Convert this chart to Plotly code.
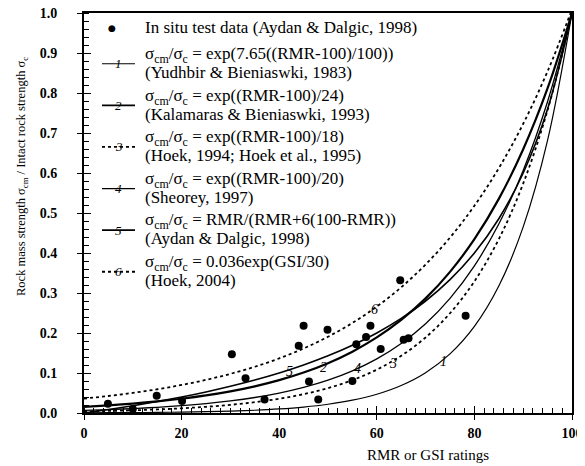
import plotly.graph_objects as go

# ---------------- data ----------------
rating = [0, 5, 10, 15, 20, 25, 30, 35, 40, 45, 50, 55, 60, 65, 70, 75, 80, 85, 90, 95, 100]

curve1 = [0.000476, 0.000698, 0.001023, 0.001500, 0.002198, 0.003222, 0.004724, 0.006925,
          0.010153, 0.014884, 0.021816, 0.031983, 0.046888, 0.068738, 0.100773, 0.147723,
          0.216536, 0.317408, 0.465334, 0.682138, 1.0]
curve2 = [0.015504, 0.019095, 0.023518, 0.028965, 0.035674, 0.043937, 0.054114, 0.066648,
          0.082085, 0.101097, 0.124514, 0.153355, 0.188876, 0.232625, 0.286505, 0.352866,
          0.434598, 0.535261, 0.659241, 0.811936, 1.0]
curve3 = [0.003866, 0.005105, 0.006738, 0.008893, 0.011744, 0.015504, 0.020468, 0.027024,
          0.035674, 0.047098, 0.062177, 0.082085, 0.108368, 0.143070, 0.188876, 0.249352,
          0.329193, 0.434598, 0.573753, 0.757465, 1.0]
curve4 = [0.006738, 0.008652, 0.011109, 0.014264, 0.018316, 0.023518, 0.030197, 0.038774,
          0.049787, 0.063928, 0.082085, 0.105399, 0.135335, 0.173774, 0.223130, 0.286505,
          0.367879, 0.472367, 0.606531, 0.778801, 1.0]
curve5 = [0.0, 0.008696, 0.018182, 0.028571, 0.04, 0.052632, 0.066667, 0.082353,
          0.1, 0.12, 0.142857, 0.169231, 0.2, 0.236364, 0.28, 0.333333,
          0.4, 0.485714, 0.6, 0.76, 1.0]
curve6 = [0.036, 0.042529, 0.050242, 0.059354, 0.070118, 0.082835, 0.097858, 0.115606,
          0.136572, 0.161341, 0.190602, 0.225169, 0.266006, 0.314249, 0.371241, 0.438570,
          0.518109, 0.612037, 0.723079, 0.854211, 1.009138]

test_x = [4.9, 10.0, 14.9, 20.1, 30.3, 33.1, 37.0, 44.0, 45.0, 46.1, 48.0, 49.9, 55.0,
          55.8, 57.8, 58.7, 60.8, 64.8, 65.5, 66.5, 78.2]
test_y = [0.023, 0.010, 0.043, 0.030, 0.147, 0.087, 0.034, 0.168, 0.218, 0.079, 0.034,
          0.208, 0.080, 0.172, 0.190, 0.218, 0.160, 0.332, 0.183, 0.187, 0.243]

# curve number labels placed on the curves
label_text = ["1", "2", "3", "4", "5", "6"]
label_x = [73.7, 49.1, 63.3, 56.1, 42.1, 59.5]
label_y = [0.128, 0.114, 0.125, 0.112, 0.104, 0.258]

legend_main = [
    "σ<sub>cm</sub>/σ<sub>c</sub> = exp(7.65((RMR-100)/100))",
    "σ<sub>cm</sub>/σ<sub>c</sub> = exp((RMR-100)/24)",
    "σ<sub>cm</sub>/σ<sub>c</sub> = exp((RMR-100)/18)",
    "σ<sub>cm</sub>/σ<sub>c</sub> = exp((RMR-100)/20)",
    "σ<sub>cm</sub>/σ<sub>c</sub> = RMR/(RMR+6(100-RMR))",
    "σ<sub>cm</sub>/σ<sub>c</sub> = 0.036exp(GSI/30)",
]
legend_ref = [
    "(Yudhbir &amp; Bieniaswki, 1983)",
    "(Kalamaras &amp; Bieniaswki, 1993)",
    "(Hoek, 1994; Hoek et al., 1995)",
    "(Sheorey, 1997)",
    "(Aydan &amp; Dalgic, 1998)",
    "(Hoek, 2004)",
]
dots_label = "In situ test data (Aydan &amp; Dalgic, 1998)"
x_ticks = [0, 20, 40, 60, 80, 100]
y_ticks = [0.0, 0.1, 0.2, 0.3, 0.4, 0.5, 0.6, 0.7, 0.8, 0.9, 1.0]

# ---------------- styles ----------------
FONT = "Liberation Serif, Times New Roman, serif"
curve_ys = [curve1, curve2, curve3, curve4, curve5, curve6]
curve_w = [1.2, 2.2, 1.8, 1.3, 1.6, 1.8]
curve_dash = ["solid", "solid", "3px,3px", "solid", "solid", "3px,3px"]
legend_dash = ["solid", "solid", "dot", "solid", "solid", "dot"]
LEG_SIZE = 17

# page body has an 8px margin -> figure is shifted; compensate
OFF = 8
W, H = 585 - OFF, 466 - OFF
ML, MR, MT, MB = 84 - OFF, 13, 13 - OFF, 53

fig = go.Figure()
for ys, w, d in zip(curve_ys, curve_w, curve_dash):
    fig.add_trace(go.Scatter(x=rating, y=ys, mode="lines", line_shape="spline",
                             line=dict(color="black", width=w, dash=d),
                             showlegend=False, hoverinfo="skip"))

fig.add_trace(go.Scatter(x=test_x, y=test_y, mode="markers",
                         marker=dict(color="black", size=8), showlegend=False))

for t, lx, ly in zip(label_text, label_x, label_y):
    fig.add_annotation(x=lx, y=ly, text="<i>" + t + "</i>", showarrow=False,
                       xanchor="center", yanchor="middle",
                       font=dict(family=FONT, size=14, color="black"))

# ---------- manual legend (paper coordinates; px are window pixels) ----------
pw = W - ML - MR
ph = H - MT - MB
def px2paper(px, py):
    return (px - OFF - ML) / pw, (H - MB - (py - OFF)) / ph

def note(px, py, text, size, xanchor="center", family=FONT, angle=0):
    x, y = px2paper(px, py)
    fig.add_annotation(xref="paper", yref="paper", x=x, y=y, text=text, showarrow=False,
                       xanchor=xanchor, yanchor="middle", textangle=angle,
                       font=dict(family=family, size=size, color="black"))

TEXT_X = 143
note(112, 28, "●", 9, family="DejaVu Sans")
note(TEXT_X, 28, dots_label, LEG_SIZE, xanchor="left")

first_line = 55
spacing = 41.6
for i in range(6):
    y1 = first_line + i * spacing
    y2 = y1 + 17.5
    ym = (y1 + y2) / 2
    x0p, ymp = px2paper(102, ym)
    x1p, _ = px2paper(135, ym)
    fig.add_shape(type="line", xref="paper", yref="paper", x0=x0p, x1=x1p, y0=ymp, y1=ymp,
                  line=dict(color="black", width=min(curve_w[i], 1.8), dash=legend_dash[i]))
    note(118.5, ym, "<i>" + label_text[i] + "</i>", 13)
    note(TEXT_X, y1, legend_main[i], LEG_SIZE, xanchor="left")
    note(TEXT_X, y2, legend_ref[i], LEG_SIZE, xanchor="left")

# axis titles
note(428, 455, "RMR or GSI ratings", 15)
note(22, 177, "Rock mass strength σ<sub>cm</sub> / Intact rock strength σ<sub>c</sub>", 12.5,
     angle=-90)

tickfont = dict(family=FONT, size=14, color="black", weight="bold")
fig.update_layout(
    width=W, height=H,
    margin=dict(l=ML, r=MR, t=MT, b=MB, autoexpand=False),
    paper_bgcolor="white", plot_bgcolor="white",
    showlegend=False,
    xaxis=dict(range=[0, 100], tickvals=x_ticks, ticks="outside", ticklen=5, tickwidth=1.3,
               tickcolor="black", showline=True, linecolor="black", linewidth=1.8, mirror=True,
               showgrid=False, zeroline=False, tickfont=tickfont, automargin=False,
               ticklabelstandoff=1, ticklabeloverflow="allow",
               minor=dict(ticks="inside", dtick=2, ticklen=5, tickwidth=1, tickcolor="black")),
    yaxis=dict(range=[0, 1], tickvals=y_ticks, tickformat=".1f", ticks="outside", ticklen=5,
               tickwidth=1.3, tickcolor="black", showline=True, linecolor="black", linewidth=1.8,
               mirror=True, showgrid=False, zeroline=False, tickfont=tickfont, automargin=False,
               ticklabelstandoff=17, ticklabeloverflow="allow",
               minor=dict(ticks="inside", dtick=0.02, ticklen=5, tickwidth=1, tickcolor="black")),
    xaxis2=dict(overlaying="x", matches="x", range=[0, 100], tickvals=x_ticks, ticks="inside",
                ticklen=7, tickwidth=1.3, tickcolor="black", showticklabels=False,
                showline=False, showgrid=False, zeroline=False, automargin=False),
    yaxis2=dict(overlaying="y", matches="y", range=[0, 1], tickvals=y_ticks, ticks="inside",
                ticklen=7, tickwidth=1.3, tickcolor="black", showticklabels=False,
                showline=False, showgrid=False, zeroline=False, side="left", automargin=False),
)
# invisible trace so overlay axes are drawn
fig.add_trace(go.Scatter(x=[None], y=[None], xaxis="x2", yaxis="y2", showlegend=False))

fig.write_html("out.html")
